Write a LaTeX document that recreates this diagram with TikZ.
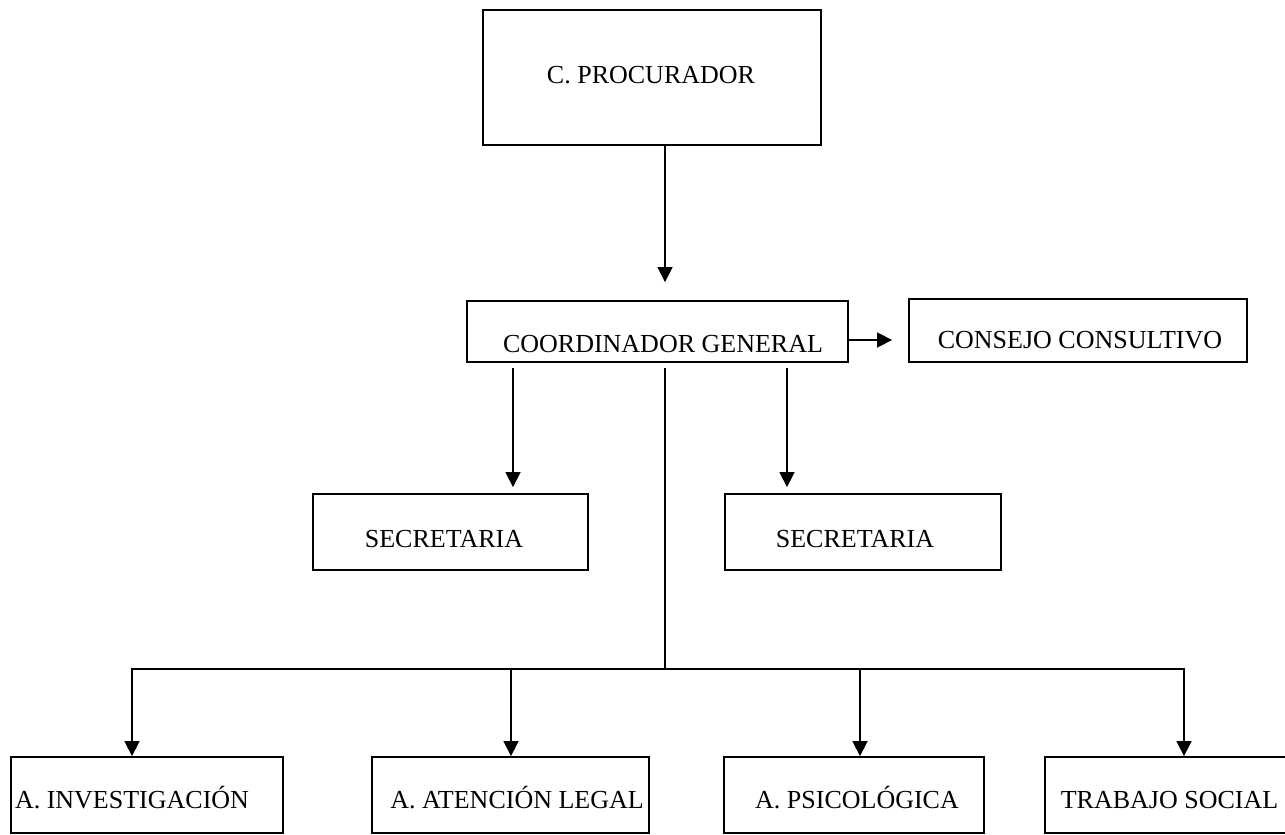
\documentclass[tikz,border=0pt]{standalone}
\usepackage{fontspec}
\setmainfont{Liberation Serif}
\usetikzlibrary{arrows.meta}
\begin{document}
\begin{tikzpicture}[x=1pt,y=-1pt,
  box/.style={draw, line width=1.8pt, inner sep=0pt},
  lbl/.style={font=\fontsize{26}{31}\selectfont, text height=17.5pt, text depth=0pt, inner sep=0pt},
  conn/.style={line width=1.5pt},
  arr/.style={conn, -{Triangle[length=15pt,width=15pt]}}]
\fill[white] (0,0) rectangle (1285,835);
\useasboundingbox (0,0) rectangle (1285,835);
\clip (0,0) rectangle (1285,835);

% boxes
\node[box, minimum width=338pt, minimum height=135pt,
  label={[lbl, xshift=-1pt, yshift=2.5pt]center:C. PROCURADOR}] (proc) at (652,77.5) {};
\node[box, minimum width=381pt, minimum height=61pt,
  label={[lbl, xshift=5.5pt, yshift=-12.5pt]center:COORDINADOR GENERAL}] (coord) at (657.5,331.5) {};
\node[box, minimum width=338pt, minimum height=63pt,
  label={[lbl, xshift=2pt, yshift=-9.5pt]center:CONSEJO CONSULTIVO}] (cons) at (1078,330.5) {};
\node[box, minimum width=275pt, minimum height=76pt,
  label={[lbl, xshift=-6.5pt, yshift=-7pt]center:SECRETARIA}] (secL) at (450.5,532) {};
\node[box, minimum width=276pt, minimum height=76pt,
  label={[lbl, xshift=-8pt, yshift=-7pt]center:SECRETARIA}] (secR) at (863,532) {};
\node[box, minimum width=272pt, minimum height=76pt,
  label={[lbl, xshift=-15pt, yshift=-5pt]center:A. INVESTIGACIÓN}] (inv) at (147,795) {};
\node[box, minimum width=277pt, minimum height=76pt,
  label={[lbl, xshift=6.5pt, yshift=-5pt]center:A. ATENCIÓN LEGAL}] (leg) at (510.5,795) {};
\node[box, minimum width=260pt, minimum height=76pt,
  label={[lbl, xshift=3pt, yshift=-5pt]center:A. PSICOLÓGICA}] (psi) at (854,795) {};
\node[box, minimum width=255pt, minimum height=76pt,
  label={[lbl, xshift=-3pt, yshift=-5pt]center:TRABAJO SOCIAL}] (trab) at (1172.5,795) {};

% helper coordinates
\coordinate (xa) at (665,0);
\coordinate (xs1) at (513,0);
\coordinate (xs2) at (787,0);
\coordinate (hub) at (665,669);
\coordinate (b1) at (132,669);
\coordinate (b2) at (511,669);
\coordinate (b3) at (860,669);
\coordinate (b4) at (1184,669);

% connectors
\draw[arr, shorten >=18pt] (xa |- proc.south) -- (xa |- coord.north);
\draw[arr, shorten >=16pt] ([yshift=-8.5pt]coord.east) -- ([yshift=-8.5pt]coord.east -| cons.west);
\draw[arr, shorten <=5pt, shorten >=6pt] (xs1 |- coord.south) -- (xs1 |- secL.north);
\draw[arr, shorten <=5pt, shorten >=6pt] (xs2 |- coord.south) -- (xs2 |- secR.north);
\draw[conn, shorten <=5pt] (xa |- coord.south) -- (hub);
\draw[line width=2pt, line cap=rect] (b1) -- (b4);
\draw[arr] (b1) -- (b1 |- inv.north);
\draw[arr] (b2) -- (b2 |- leg.north);
\draw[arr] (b3) -- (b3 |- psi.north);
\draw[arr] (b4) -- (b4 |- trab.north);
\end{tikzpicture}
\end{document}
